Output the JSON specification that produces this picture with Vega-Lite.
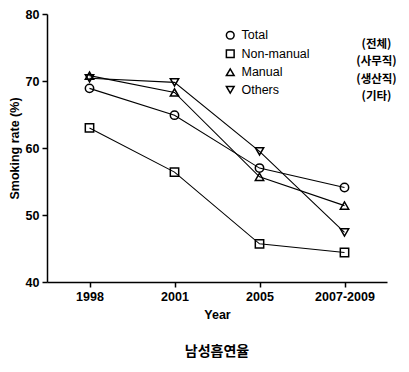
{
  "$schema": "https://vega.github.io/schema/vega-lite/v6.json",
  "width": 340,
  "height": 268,
  "autosize": {"type": "none"},
  "padding": {"left": 47, "top": 14, "right": 22, "bottom": 90},
  "background": "white",
  "title": {"text": "남성흡연율", "orient": "bottom", "anchor": "middle", "font": "Noto Sans CJK KR", "fontSize": 14, "fontWeight": "bold", "color": "black", "offset": 24},
  "data": {"values": [
    {"year": "1998", "series": "Total", "kr": "(전체)", "rate": 68.9},
    {"year": "2001", "series": "Total", "kr": "(전체)", "rate": 64.9},
    {"year": "2005", "series": "Total", "kr": "(전체)", "rate": 57.0},
    {"year": "2007-2009", "series": "Total", "kr": "(전체)", "rate": 54.1},
    {"year": "1998", "series": "Non-manual", "kr": "(사무직)", "rate": 63.0},
    {"year": "2001", "series": "Non-manual", "kr": "(사무직)", "rate": 56.4},
    {"year": "2005", "series": "Non-manual", "kr": "(사무직)", "rate": 45.7},
    {"year": "2007-2009", "series": "Non-manual", "kr": "(사무직)", "rate": 44.4},
    {"year": "1998", "series": "Manual", "kr": "(생산직)", "rate": 70.8},
    {"year": "2001", "series": "Manual", "kr": "(생산직)", "rate": 68.3},
    {"year": "2005", "series": "Manual", "kr": "(생산직)", "rate": 55.7},
    {"year": "2007-2009", "series": "Manual", "kr": "(생산직)", "rate": 51.4},
    {"year": "1998", "series": "Others", "kr": "(기타)", "rate": 70.4},
    {"year": "2001", "series": "Others", "kr": "(기타)", "rate": 69.8},
    {"year": "2005", "series": "Others", "kr": "(기타)", "rate": 59.5},
    {"year": "2007-2009", "series": "Others", "kr": "(기타)", "rate": 47.4}
  ]},
  "encoding": {
    "x": {"field": "year", "type": "ordinal", "sort": ["1998", "2001", "2005", "2007-2009"],
      "scale": {"type": "point", "padding": 0.5},
      "axis": {"title": "Year", "labelAngle": 0}},
    "y": {"field": "rate", "type": "quantitative",
      "scale": {"domain": [40, 80], "nice": false, "zero": false},
      "axis": {"title": "Smoking rate (%)", "values": [40, 50, 60, 70, 80]}}
  },
  "layer": [
    {
      "mark": {"type": "line", "color": "black", "strokeWidth": 1.1},
      "encoding": {
        "color": {"field": "kr", "type": "nominal",
          "scale": {"domain": ["(전체)", "(사무직)", "(생산직)", "(기타)"], "range": ["black", "black", "black", "black"]},
          "legend": {"title": null, "orient": "none", "legendX": 296, "legendY": 25,
            "symbolOpacity": 0, "symbolSize": 10, "labelAlign": "center", "labelOffset": 22,
            "labelFont": "Noto Sans CJK KR", "labelFontWeight": "bold", "labelFontSize": 11.5,
            "labelColor": "black", "rowPadding": 4.5}}
      }
    },
    {
      "mark": {"type": "point", "filled": false, "stroke": "black", "strokeWidth": 1.5, "size": 70, "opacity": 1},
      "encoding": {
        "shape": {"field": "series", "type": "nominal",
          "scale": {"domain": ["Total", "Non-manual", "Manual", "Others"], "range": ["circle", "square", "triangle-up", "triangle-down"]},
          "legend": {"title": null, "orient": "none", "legendX": 177, "legendY": 15,
            "symbolStrokeColor": "black", "symbolFillColor": "transparent", "symbolStrokeWidth": 1.5, "symbolSize": 60,
            "labelFont": "Liberation Sans", "labelFontSize": 12.5, "labelColor": "black", "rowPadding": 3.5, "labelOffset": 5}}
      }
    }
  ],
  "config": {
    "view": {"stroke": null},
    "axis": {
      "grid": false, "domainColor": "black", "domainWidth": 1.5, "tickColor": "black", "tickWidth": 1.5, "tickSize": 5,
      "labelFont": "Liberation Sans", "labelFontWeight": "bold", "labelFontSize": 12.5, "labelColor": "black",
      "titleFont": "Liberation Sans", "titleFontWeight": "bold", "titleFontSize": 12.5, "titleColor": "black"
    },
    "axisY": {"labelPadding": 3, "titlePadding": 4},
    "axisX": {"labelPadding": 3, "titlePadding": 6}
  }
}
